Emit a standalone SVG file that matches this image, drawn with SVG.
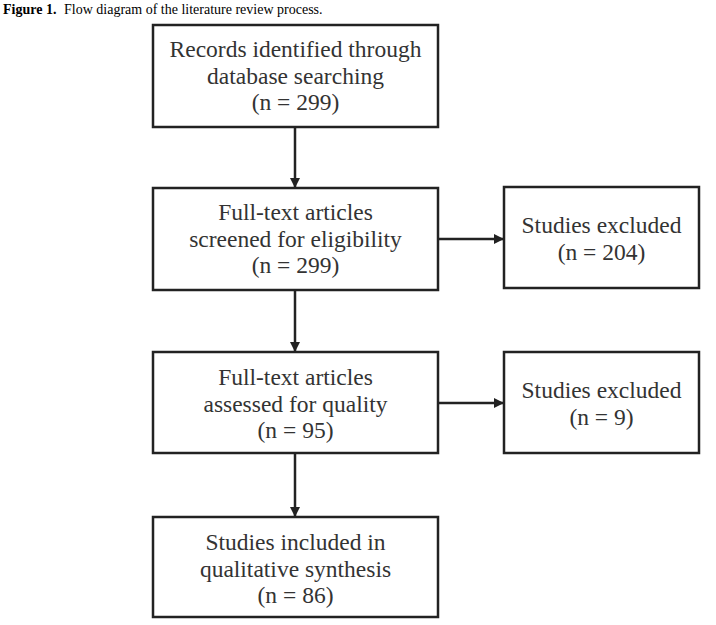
<svg xmlns="http://www.w3.org/2000/svg" width="716" height="625" viewBox="0 0 716 625">
<style>
.box{fill:#fff;stroke:#222;stroke-width:2.5}
.t{font-family:"Liberation Serif","Times New Roman",serif;font-size:23.5px;fill:#333;text-anchor:middle}
.edge{stroke:#222;stroke-width:2.5;fill:none}
.cap{font-family:"Liberation Serif","Times New Roman",serif;font-size:14px;fill:#000}
</style>
<defs>
<marker id="ah" markerWidth="10" markerHeight="10" refX="9" refY="5" orient="auto" markerUnits="userSpaceOnUse">
<path d="M0,0 L10,5 L0,10 Z" fill="#222"/>
</marker>
</defs>
<rect width="716" height="625" fill="#fff"/>
<text class="cap" x="3" y="14" font-weight="bold">Figure 1.</text>
<text class="cap" x="64" y="14">Flow diagram of the literature review process.</text>
<g id="connectors">
<line class="edge" x1="295" y1="127" x2="295" y2="187" marker-end="url(#ah)"/>
<line class="edge" x1="295" y1="290" x2="295" y2="351" marker-end="url(#ah)"/>
<line class="edge" x1="295" y1="453" x2="295" y2="516" marker-end="url(#ah)"/>
<line class="edge" x1="438" y1="239" x2="503" y2="239" marker-end="url(#ah)"/>
<line class="edge" x1="438" y1="403" x2="503" y2="403" marker-end="url(#ah)"/>
</g>
<g id="n1">
<rect class="box" x="153" y="25" width="285" height="102"/>
<text class="t" x="295.5" y="57">Records identified through</text>
<text class="t" x="295.5" y="84">database searching</text>
<text class="t" x="295.5" y="110">(n = 299)</text>
</g>
<g id="n2">
<rect class="box" x="153" y="188" width="285" height="102"/>
<text class="t" x="295.5" y="220">Full-text articles</text>
<text class="t" x="295.5" y="247">screened for eligibility</text>
<text class="t" x="295.5" y="273">(n = 299)</text>
</g>
<g id="n3">
<rect class="box" x="504" y="187" width="195" height="101"/>
<text class="t" x="601.5" y="233">Studies excluded</text>
<text class="t" x="601.5" y="260">(n = 204)</text>
</g>
<g id="n4">
<rect class="box" x="153" y="352" width="285" height="101"/>
<text class="t" x="295.5" y="385">Full-text articles</text>
<text class="t" x="295.5" y="412">assessed for quality</text>
<text class="t" x="295.5" y="438">(n = 95)</text>
</g>
<g id="n5">
<rect class="box" x="504" y="352" width="195" height="101"/>
<text class="t" x="601.5" y="398">Studies excluded</text>
<text class="t" x="601.5" y="425">(n = 9)</text>
</g>
<g id="n6">
<rect class="box" x="153" y="517" width="285" height="100"/>
<text class="t" x="295.5" y="550">Studies included in</text>
<text class="t" x="295.5" y="577">qualitative synthesis</text>
<text class="t" x="295.5" y="603">(n = 86)</text>
</g>
</svg>
